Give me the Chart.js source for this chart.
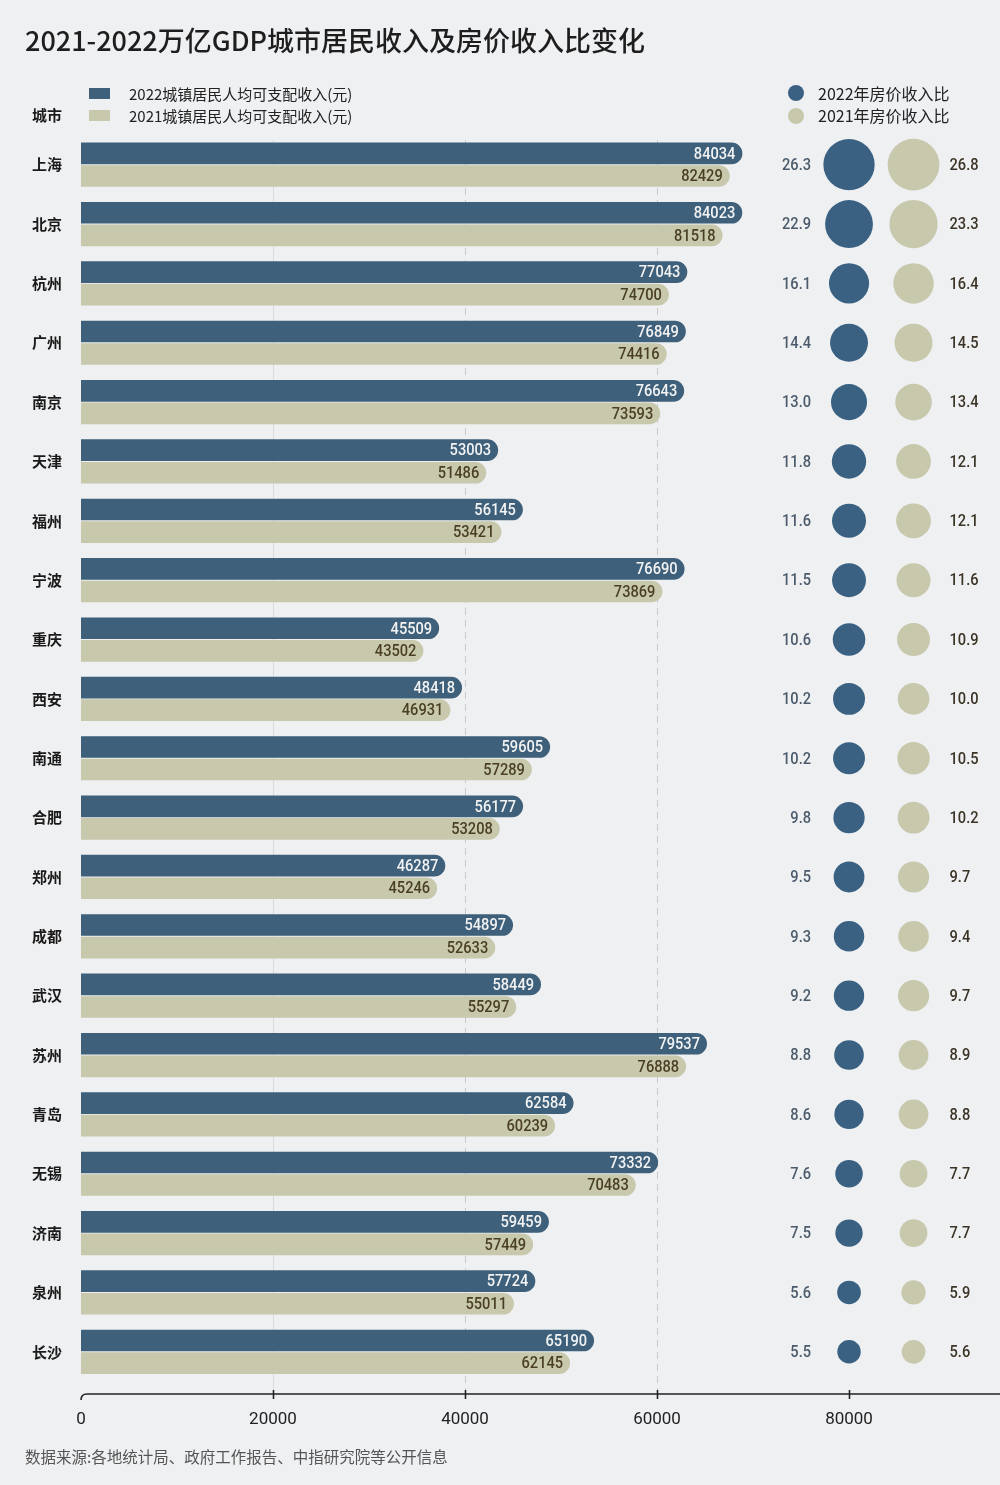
<!DOCTYPE html>
<html lang="zh">
<head>
<meta charset="utf-8">
<title>2021-2022万亿GDP城市居民收入及房价收入比变化</title>
<script src="https://cdn.jsdelivr.net/npm/chart.js@4.4.1/dist/chart.umd.min.js"></script>
<style>
    html, body { margin: 0; padding: 0; background: #eff0f2; }
    body { width: 1000px; height: 1485px; position: relative; overflow: hidden; font-family: "Noto Sans CJK SC", "Noto Sans", sans-serif; color: #222; }
    #chart { position: absolute; left: 0; top: 0; }
    .txt { position: absolute; white-space: nowrap; line-height: 1; }
    .title { left: 25px; top: 26px; font-size: 27px; font-weight: 500; color: #1e1e1e; }
    .leg { font-size: 15px; color: #222; }
    .sw { position: absolute; width: 21px; height: 11px; }
    .dot { position: absolute; width: 16px; height: 16px; border-radius: 50%; }
    .city-head { left: 32px; top: 107px; font-size: 15px; font-weight: 700; color: #1a1a1a; }
    .footer { left: 25px; top: 1449px; font-size: 15.5px; color: #555; }
</style>
</head>
<body>
<canvas id="chart" width="1000" height="1485"></canvas>

<div class="txt title">2021-2022万亿GDP城市居民收入及房价收入比变化</div>

<!-- 图例 (左：柱子, 右：气泡) -->
<div class="sw" style="left:89px; top:88px; background:#3e607a;"></div>
<div class="txt leg" style="left:129px; top:86px;">2022城镇居民人均可支配收入(元)</div>
<div class="sw" style="left:89px; top:110px; background:#c8c8ad;"></div>
<div class="txt leg" style="left:129px; top:108px;">2021城镇居民人均可支配收入(元)</div>
<div class="txt city-head">城市</div>

<div class="dot" style="left:788px; top:85px; background:#3a6182;"></div>
<div class="txt leg" style="left:818px; top:85px; font-size:16px;">2022年房价收入比</div>
<div class="dot" style="left:788px; top:108px; background:#c8c8ad;"></div>
<div class="txt leg" style="left:818px; top:107px; font-size:16px;">2021年房价收入比</div>

<div class="txt footer">数据来源:各地统计局、政府工作报告、中指研究院等公开信息</div>

<script>
// ---- 数据 ----
const cities = ['上海', '北京', '杭州', '广州', '南京', '天津', '福州', '宁波', '重庆', '西安', '南通',
                '合肥', '郑州', '成都', '武汉', '苏州', '青岛', '无锡', '济南', '泉州', '长沙'];
const income2022 = [84034, 84023, 77043, 76849, 76643, 53003, 56145, 76690, 45509, 48418, 59605,
                    56177, 46287, 54897, 58449, 79537, 62584, 73332, 59459, 57724, 65190];
const income2021 = [82429, 81518, 74700, 74416, 73593, 51486, 53421, 73869, 43502, 46931, 57289,
                    53208, 45246, 52633, 55297, 76888, 60239, 70483, 57449, 55011, 62145];
const ratio2022 = [26.3, 22.9, 16.1, 14.4, 13.0, 11.8, 11.6, 11.5, 10.6, 10.2, 10.2,
                   9.8, 9.5, 9.3, 9.2, 8.8, 8.6, 7.6, 7.5, 5.6, 5.5];
const ratio2021 = [26.8, 23.3, 16.4, 14.5, 13.4, 12.1, 12.1, 11.6, 10.9, 10.0, 10.5,
                   10.2, 9.7, 9.4, 9.7, 8.9, 8.8, 7.7, 7.7, 5.9, 5.6];
const xTicks = [0, 20000, 40000, 60000, 80000];

// ---- 样式 / 版面 ----
const BLUE = '#3e607a';
const BLUE_DOT = '#3a6182';
const BEIGE = '#c8c8ad';
const AXIS_MAX = 93030;      // 显示的坐标轴 (0 -> 80000)
const BAR_AXIS_MAX = 113480; // 柱子用的隐藏坐标轴
const COL_2022 = 80000;      // 气泡列位置
const COL_2021 = 86720;
const AXIS_LINE_Y = 1394;

// 窄体数字 (没有窄体字体, 用横向缩放)
function narrowText(ctx, text, x, y, align) {
    ctx.save();
    ctx.font = '500 17px Roboto, sans-serif';
    ctx.textAlign = align;
    ctx.translate(x, y);
    ctx.scale(0.86, 1);
    ctx.fillText(text, 0, 0);
    ctx.restore();
}

// 网格线 (20000 实线, 其余虚线)
const gridPlugin = {
    id: 'gridLines',
    beforeDatasetsDraw(chart) {
        const ctx = chart.ctx;
        const x = chart.scales.x;
        const top = chart.chartArea.top + 5;
        ctx.save();
        [20000, 40000, 60000].forEach(v => {
            const px = Math.round(x.getPixelForValue(v)) + 0.5;
            ctx.beginPath();
            if (v === 20000) {
                ctx.setLineDash([]);
                ctx.strokeStyle = '#d9dadc';
            } else {
                ctx.setLineDash([7, 5]);
                ctx.strokeStyle = '#c9cacc';
            }
            ctx.lineWidth = 1;
            ctx.moveTo(px, top);
            ctx.lineTo(px, AXIS_LINE_Y);
            ctx.stroke();
        });
        ctx.restore();
    }
};

// 数值标签 + 底部坐标轴线
const labelPlugin = {
    id: 'valueLabels',
    afterDatasetsDraw(chart) {
        const ctx = chart.ctx;
        ctx.save();
        ctx.textBaseline = 'middle';

        // 柱子数值
        [[0, '#f3f3f3', income2022], [1, '#4a3f24', income2021]].forEach(([di, color, vals]) => {
            ctx.fillStyle = color;
            chart.getDatasetMeta(di).data.forEach((bar, i) => {
                narrowText(ctx, String(vals[i]), bar.x - 7, bar.y + 1, 'right');
            });
        });

        // 气泡数值
        ctx.fillStyle = '#4b5b6b';
        chart.getDatasetMeta(2).data.forEach((pt, i) => {
            narrowText(ctx, ratio2022[i].toFixed(1), pt.x - 38, pt.y + 1, 'right');
        });
        ctx.fillStyle = '#3b3426';
        chart.getDatasetMeta(3).data.forEach((pt, i) => {
            narrowText(ctx, ratio2021[i].toFixed(1), pt.x + 36, pt.y + 1, 'left');
        });

        // 坐标轴线
        const x = chart.scales.x;
        const left = x.getPixelForValue(0);
        ctx.strokeStyle = '#222';
        ctx.lineWidth = 1.6;
        ctx.beginPath();
        ctx.moveTo(left, AXIS_LINE_Y + 6);
        ctx.quadraticCurveTo(left, AXIS_LINE_Y, left + 6, AXIS_LINE_Y);
        ctx.lineTo(chart.width, AXIS_LINE_Y);
        ctx.stroke();
        xTicks.slice(1).forEach(v => {
            const px = Math.round(x.getPixelForValue(v)) + 0.5;
            ctx.beginPath();
            ctx.moveTo(px, AXIS_LINE_Y - 4);
            ctx.lineTo(px, AXIS_LINE_Y + 5);
            ctx.stroke();
        });
        ctx.restore();
    }
};

const barStyle = {
    indexAxis: 'y',
    xAxisID: 'xb',
    yAxisID: 'y',
    borderRadius: 11,
    borderSkipped: 'start',
    categoryPercentage: 0.76,
    barPercentage: 0.96
};

new Chart(document.getElementById('chart').getContext('2d'), {
    type: 'bar',
    data: {
        labels: cities,
        datasets: [
            Object.assign({ label: '2022城镇居民人均可支配收入(元)', data: income2022, backgroundColor: BLUE }, barStyle),
            Object.assign({ label: '2021城镇居民人均可支配收入(元)', data: income2021, backgroundColor: BEIGE }, barStyle),
            {
                type: 'bubble',
                label: '2022年房价收入比',
                data: cities.map((c, i) => ({ x: COL_2022, y: c, r: 5 * Math.sqrt(ratio2022[i]) })),
                xAxisID: 'x',
                yAxisID: 'y',
                backgroundColor: BLUE_DOT,
                borderWidth: 0,
                clip: false
            },
            {
                type: 'bubble',
                label: '2021年房价收入比',
                data: cities.map((c, i) => ({ x: COL_2021, y: c, r: 5 * Math.sqrt(ratio2021[i]) })),
                xAxisID: 'x',
                yAxisID: 'y',
                backgroundColor: BEIGE,
                borderWidth: 0,
                clip: false
            }
        ]
    },
    options: {
        indexAxis: 'y',
        responsive: false,
        animation: false,
        devicePixelRatio: 1,
        layout: { padding: { top: 135, right: 0, bottom: 53.5, left: 0 } },
        plugins: {
            legend: { display: false },
            tooltip: { enabled: false }
        },
        scales: {
            y: {
                type: 'category',
                axis: 'y',
                position: 'left',
                offset: true,
                grid: { display: false, drawTicks: false },
                border: { display: false },
                ticks: {
                    color: '#1a1a1a',
                    padding: 19,
                    font: { family: '"Noto Sans CJK SC", sans-serif', size: 15, weight: 'bold' }
                },
                afterFit(scale) { scale.width = 81; }
            },
            x: {
                type: 'linear',
                axis: 'x',
                position: 'bottom',
                offset: false,
                min: 0,
                max: AXIS_MAX,
                grid: { display: false, drawTicks: false, offset: false },
                border: { display: false },
                afterBuildTicks(scale) { scale.ticks = xTicks.map(v => ({ value: v })); },
                ticks: {
                    color: '#222',
                    padding: 28,
                    maxRotation: 0,
                    autoSkip: false,
                    font: { family: 'Roboto, sans-serif', size: 17 },
                    callback: v => String(v)
                },
                afterFit(scale) {
                    scale.height = 50;
                    scale.paddingLeft = 0;
                    scale.paddingRight = 0;
                }
            },
            xb: {
                type: 'linear',
                axis: 'x',
                display: false,
                offset: false,
                grid: { offset: false },
                min: 0,
                max: BAR_AXIS_MAX
            }
        }
    },
    plugins: [gridPlugin, labelPlugin]
});
</script>
</body>
</html>
